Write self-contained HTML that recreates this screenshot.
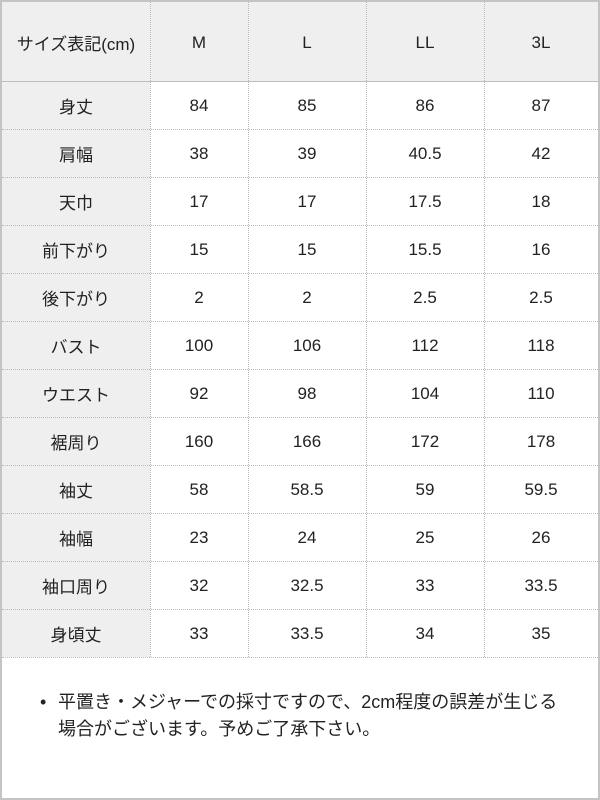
<!DOCTYPE html>
<html><head><meta charset="utf-8"><style>
*{margin:0;padding:0;box-sizing:border-box}
body{width:600px;height:800px;background:#fff;position:relative;overflow:hidden;font-family:"Liberation Sans","Noto Sans CJK JP",sans-serif;color:#222}
.frame{position:absolute;left:0;top:0;width:600px;height:800px;border:2px solid #c4c4c4}
.c{position:absolute;text-align:center;font-size:17px;white-space:nowrap;padding-top:2px}
.c.j{padding-top:4px}
.g{background:#efefef}
.h{position:absolute;height:0;border-top:1px dotted #bbb}
.v{position:absolute;width:0;border-left:1px dotted #bbb}
.note{position:absolute;left:40px;top:689px;font-size:18px;line-height:27px;color:#222;white-space:nowrap}
.note span{position:absolute;left:0;top:0}
</style></head><body>
<div class="c g" style="left:2px;top:2px;width:596px;height:79px"></div>
<div class="c g" style="left:2px;top:81px;width:148px;height:576px"></div>
<div id="cells"></div>
<script>
const cols=[[2,150],[150,248],[248,366],[366,484],[484,598]];
const rows=[["サイズ表記(cm)","M","L","LL","3L"],["身丈","84","85","86","87"],["肩幅","38","39","40.5","42"],["天巾","17","17","17.5","18"],["前下がり","15","15","15.5","16"],["後下がり","2","2","2.5","2.5"],["バスト","100","106","112","118"],["ウエスト","92","98","104","110"],["裾周り","160","166","172","178"],["袖丈","58","58.5","59","59.5"],["袖幅","23","24","25","26"],["袖口周り","32","32.5","33","33.5"],["身頃丈","33","33.5","34","35"]];
let h="";
rows.forEach((r,i)=>{const top=i==0?2:81+(i-1)*48,ht=i==0?79:48;
r.forEach((t,j)=>{h+=`<div class="c${j==0?' j':''}" style="left:${cols[j][0]}px;top:${top}px;width:${cols[j][1]-cols[j][0]}px;height:${ht}px;line-height:${ht-2}px">${t}</div>`;});
if(i>0)h+=`<div class="h" style="left:2px;width:596px;top:${top+ht}px"></div>`;});
h+=`<div style="position:absolute;left:2px;width:596px;top:81px;border-top:1px solid #bdbdbd"></div>`;
[150,248,366,484].forEach(x=>h+=`<div class="v" style="left:${x}px;top:2px;height:655px"></div>`);
document.getElementById("cells").innerHTML=h;
</script>
<div class="note"><span style="left:0">•</span><div style="padding-left:18px">平置き・メジャーでの採寸ですので、2cm程度の誤差が生じる<br>場合がございます。予めご了承下さい。</div></div>
<div class="frame"></div>
</body></html>
